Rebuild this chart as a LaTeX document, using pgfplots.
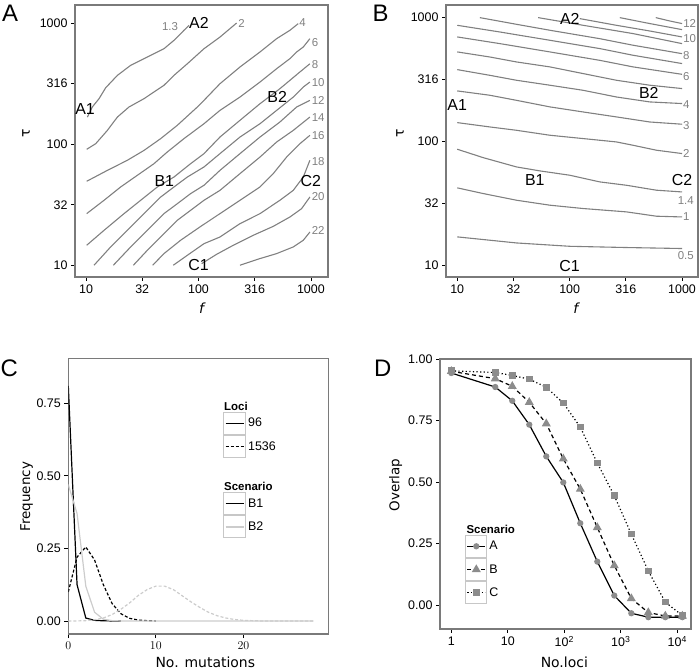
\documentclass[border=0pt]{standalone}
\usepackage{pgfplots}
\pgfplotsset{compat=1.18}
\usepackage{fontspec}
\setmainfont{Liberation Sans}
\newfontfamily\djv{DejaVu Sans}

\definecolor{cline}{gray}{0.5}
\definecolor{frame}{gray}{0.48}
\definecolor{lightg}{gray}{0.8}
\definecolor{keybox}{gray}{0.78}
\definecolor{mk}{gray}{0.55}

\tikzset{
  glab/.style={text=cline, font=\fontsize{11.5}{12}\selectfont, inner sep=0pt},
  blab/.style={text=black, font=\fontsize{16}{17}\selectfont, inner sep=0pt},
}
\pgfplotsset{
  panel/.style={
    scale only axis, anchor=south west,
    axis line style={draw=frame, line width=1.2bp},
    tick align=outside, major tick length=4bp,
    xtick pos=bottom, ytick pos=left,
    tick style={black, line width=0.8bp},
    minor tick num=0, minor tick style={draw=none},
    tick label style={font=\fontsize{12.5}{14}\selectfont, black},
  },
  cont/.style={cline, line width=1.1bp, no marks},
  boxkey/.style={legend image code/.code={
    \draw[solid, draw=keybox, line width=1.2bp, fill=white] (0bp,-11bp) rectangle (22bp,11bp);
    \draw (2bp,0bp) -- (20bp,0bp);}},
  markkey/.style={legend image code/.code={
    \draw[solid, draw=keybox, line width=1.2bp, fill=white] (0bp,-11bp) rectangle (21bp,11bp);
    \draw[mark repeat=2, mark phase=2] plot coordinates {(1.5bp,0bp) (10.5bp,0bp) (19.5bp,0bp)};}},
}

\begin{document}
\begin{tikzpicture}
\path[use as bounding box] (0,0) rectangle (700bp,670bp);

% ---------------- A ----------------
\begin{axis}[panel, at={(75bp,393bp)}, width=253bp, height=272bp,
  xmin=0.902, xmax=3.152, ymin=0.904, ymax=3.149, clip=false,
  xtick={1,1.5,2,2.5,3}, xticklabels={10,32,100,316,1000},
  ytick={1,1.5,2,2.5,3}, yticklabels={10,32,100,316,1000}]
\addplot[cont] coordinates {(1.012,2.224) (1.056,2.307) (1.116,2.376) (1.175,2.466) (1.279,2.568) (1.397,2.651) (1.516,2.706) (1.604,2.747) (1.693,2.788) (1.782,2.857) (1.871,2.940) (1.916,2.981)};
\addplot[cont] coordinates {(1.006,1.958) (1.086,2.004) (1.190,2.114) (1.279,2.224) (1.382,2.307) (1.516,2.376) (1.693,2.486) (1.782,2.568) (1.901,2.664) (2.049,2.788) (2.191,2.884) (2.339,3.0)};
\addplot[cont] coordinates {(1.006,1.694) (1.190,1.784) (1.367,1.867) (1.516,1.949) (1.664,2.046) (1.812,2.156) (1.990,2.307) (2.049,2.362) (2.191,2.499) (2.369,2.637) (2.547,2.761) (2.695,2.871) (2.813,2.940) (2.887,2.995)};
\addplot[cont] coordinates {(1.006,1.427) (1.160,1.537) (1.308,1.647) (1.456,1.743) (1.604,1.839) (1.723,1.936) (1.871,2.046) (2.049,2.169) (2.191,2.279) (2.369,2.389) (2.547,2.513) (2.695,2.623) (2.813,2.706) (2.873,2.761) (2.932,2.802) (2.991,2.871)};
\addplot[cont] coordinates {(1.006,1.166) (1.160,1.289) (1.338,1.427) (1.486,1.537) (1.634,1.647) (1.782,1.729) (1.930,1.839) (2.049,1.922) (2.191,2.059) (2.369,2.197) (2.547,2.334) (2.724,2.458) (2.813,2.527) (2.902,2.596) (2.991,2.664)};
\addplot[cont] coordinates {(1.071,1.001) (1.219,1.152) (1.367,1.289) (1.516,1.427) (1.664,1.564) (1.782,1.647) (1.901,1.729) (2.049,1.812) (2.191,1.922) (2.369,2.059) (2.547,2.169) (2.695,2.279) (2.843,2.389) (2.932,2.472) (2.991,2.513)};
\addplot[cont] coordinates {(1.243,1.001) (1.397,1.152) (1.545,1.289) (1.693,1.427) (1.812,1.509) (1.930,1.592) (2.049,1.661) (2.191,1.784) (2.369,1.922) (2.547,2.059) (2.724,2.183) (2.873,2.307) (2.991,2.362)};
\addplot[cont] coordinates {(1.421,1.001) (1.545,1.124) (1.693,1.262) (1.812,1.372) (1.930,1.454) (2.049,1.537) (2.191,1.619) (2.369,1.757) (2.547,1.894) (2.695,2.018) (2.843,2.114) (2.991,2.224)};
\addplot[cont] coordinates {(1.593,1.001) (1.693,1.097) (1.841,1.207) (2.013,1.317) (2.191,1.427) (2.369,1.537) (2.547,1.647) (2.665,1.757) (2.784,1.894) (2.902,2.004) (2.991,2.073)};
\addplot[cont] coordinates {(1.776,1.001) (1.901,1.083) (2.049,1.179) (2.191,1.234) (2.369,1.344) (2.547,1.427) (2.724,1.537) (2.843,1.619) (2.932,1.729) (2.991,1.867)};
\addplot[cont] coordinates {(2.028,1.014) (2.161,1.091) (2.310,1.166) (2.487,1.248) (2.665,1.322) (2.813,1.399) (2.917,1.468) (2.991,1.564)};
\addplot[cont] coordinates {(2.369,1.001) (2.547,1.056) (2.695,1.097) (2.843,1.152) (2.932,1.207) (2.991,1.275)};
\node[glab] at (axis cs:1.747,2.967) {1.3};
\node[glab] at (axis cs:2.384,3.0) {2};
\node[glab] at (axis cs:2.926,3.0) {4};
\node[glab] at (axis cs:3.036,2.843) {6};
\node[glab] at (axis cs:3.036,2.659) {8};
\node[glab] at (axis cs:3.065,2.505) {10};
\node[glab] at (axis cs:3.065,2.362) {12};
\node[glab] at (axis cs:3.065,2.219) {14};
\node[glab] at (axis cs:3.065,2.070) {16};
\node[glab] at (axis cs:3.065,1.856) {18};
\node[glab] at (axis cs:3.065,1.564) {20};
\node[glab] at (axis cs:3.065,1.284) {22};
\node[blab] at (axis cs:0.991,2.293) {A1};
\node[blab] at (axis cs:2.004,3.0) {A2};
\node[blab] at (axis cs:1.696,1.694) {B1};
\node[blab] at (axis cs:2.70,2.389) {B2};
\node[blab] at (axis cs:2.0,1.0) {C1};
\node[blab] at (axis cs:3.0,1.694) {C2};
\end{axis}

% ---------------- B ----------------
\begin{axis}[panel, at={(446bp,393bp)}, width=252bp, height=272bp,
  xmin=0.9, xmax=3.142, ymin=0.905, ymax=3.102, clip=false,
  xtick={1,1.5,2,2.5,3}, xticklabels={10,32,100,316,1000},
  ytick={1,1.5,2,2.5,3}, yticklabels={10,32,100,316,1000}]
\addplot[cont] coordinates {(1.0,1.229) (1.527,1.180) (2.001,1.153) (2.505,1.143) (3.0,1.135)};
\addplot[cont] coordinates {(1.0,1.625) (1.231,1.579) (1.527,1.525) (1.824,1.485) (2.120,1.458) (2.505,1.431) (2.772,1.396) (3.0,1.390)};
\addplot[cont] coordinates {(1.0,1.937) (1.231,1.869) (1.527,1.794) (1.735,1.762) (2.001,1.727) (2.268,1.673) (2.505,1.646) (2.772,1.606) (3.0,1.592)};
\addplot[cont] coordinates {(1.0,2.152) (1.290,2.117) (1.527,2.090) (1.824,2.050) (2.120,2.023) (2.416,1.996) (2.564,1.969) (2.772,1.929) (3.0,1.902)};
\addplot[cont] coordinates {(1.0,2.408) (1.290,2.373) (1.527,2.332) (1.824,2.279) (2.120,2.238) (2.416,2.198) (2.713,2.157) (3.0,2.139)};
\addplot[cont] coordinates {(1.0,2.580) (1.290,2.534) (1.527,2.494) (1.824,2.454) (2.120,2.413) (2.416,2.359) (2.713,2.319) (3.0,2.306)};
\addplot[cont] coordinates {(1.0,2.723) (1.290,2.682) (1.527,2.642) (1.824,2.602) (2.120,2.548) (2.416,2.494) (2.713,2.454) (3.0,2.427)};
\addplot[cont] coordinates {(1.0,2.844) (1.379,2.790) (1.824,2.723) (2.268,2.655) (2.564,2.602) (3.0,2.542)};
\addplot[cont] coordinates {(1.0,2.938) (1.379,2.884) (1.824,2.817) (2.268,2.750) (2.564,2.696) (3.0,2.629)};
\addplot[cont] coordinates {(1.201,3.0) (1.527,2.946) (1.824,2.898) (2.268,2.830) (2.564,2.777) (3.0,2.709)};
\addplot[cont] coordinates {(1.720,3.0) (2.120,2.938) (2.564,2.871) (3.0,2.790)};
\addplot[cont] coordinates {(2.090,2.992) (2.416,2.938) (2.713,2.892) (3.0,2.844)};
\addplot[cont] coordinates {(2.446,3.0) (2.713,2.952) (3.0,2.903)};
\addplot[cont] coordinates {(2.766,3.0) (2.890,2.973) (3.0,2.952)};
\node[glab] at (axis cs:3.068,2.952) {12};
\node[glab] at (axis cs:3.068,2.830) {10};
\node[glab] at (axis cs:3.039,2.696) {8};
\node[glab] at (axis cs:3.039,2.521) {6};
\node[glab] at (axis cs:3.039,2.300) {4};
\node[glab] at (axis cs:3.039,2.131) {3};
\node[glab] at (axis cs:3.039,1.902) {2};
\node[glab] at (axis cs:3.033,1.525) {1.4};
\node[glab] at (axis cs:3.039,1.390) {1};
\node[glab] at (axis cs:3.033,1.081) {0.5};
\node[blab] at (axis cs:2.001,2.992) {A2};
\node[blab] at (axis cs:1.0,2.292) {A1};
\node[blab] at (axis cs:1.690,1.686) {B1};
\node[blab] at (axis cs:2.704,2.392) {B2};
\node[blab] at (axis cs:2.0,0.995) {C1};
\node[blab] at (axis cs:3.0,1.686) {C2};
\end{axis}

% ---------------- C ----------------
\begin{axis}[panel, at={(68.3bp,36bp)}, width=260bp, height=275.7bp,
  xmin=0, xmax=29.7, ymin=-0.045, ymax=0.905,
  xtick={0,10,20}, ytick={0,0.25,0.5,0.75},
  yticklabels={0.00,0.25,0.50,0.75},
  legend style={draw=none, fill=none, at={(0.594,0.856)}, anchor=north west,
    inner sep=0pt, row sep=0pt, column sep=2bp,
    font=\fontsize{12.5}{13}\selectfont, nodes={inner sep=0pt}, cells={anchor=west}}]
\addplot[forget plot, black, line width=1.2bp] coordinates {(0,0.81) (1,0.125) (2,0.01) (3,0.002) (4,0.0005) (5,0) (6,0)};
\addplot[forget plot, black, line width=1.2bp, dash pattern=on 3bp off 2bp] coordinates {(0,0.10) (1,0.22) (2,0.255) (3,0.21) (4,0.125) (5,0.06) (6,0.025) (7,0.009) (8,0.003) (9,0.001) (10,0)};
\addplot[forget plot, lightg, line width=1.2bp] coordinates {(0,0.47) (1,0.37) (2,0.12) (3,0.03) (4,0.006) (5,0.001) (6,0) (28,0)};
\addplot[forget plot, lightg, line width=1.2bp, dash pattern=on 3bp off 2bp] coordinates {(0,0) (1,0) (2,0.001) (3,0.004) (4,0.01) (5,0.022) (6,0.04) (7,0.062) (8,0.088) (9,0.108) (10,0.12) (11,0.12) (12,0.108) (13,0.087) (14,0.066) (15,0.047) (16,0.03) (17,0.018) (18,0.01) (19,0.005) (20,0.002) (21,0.001) (22,0) (28,0)};
\addlegendimage{empty legend}
\addlegendentry{\makebox[0pt][l]{\hspace*{-24.5bp}\rule[-4bp]{0pt}{16bp}\bfseries\fontsize{11.5}{12}\selectfont Loci}}
\addlegendimage{boxkey, black, line width=1.4bp}
\addlegendentry{96}
\addlegendimage{boxkey, black, line width=1.4bp, dash pattern=on 3bp off 2bp}
\addlegendentry{1536}
\addlegendimage{empty legend}
\addlegendentry{\rule{0pt}{19bp}}
\addlegendimage{empty legend}
\addlegendentry{\makebox[0pt][l]{\hspace*{-24.5bp}\rule[-4bp]{0pt}{16bp}\bfseries\fontsize{11.5}{12}\selectfont Scenario}}
\addlegendimage{boxkey, black, line width=1.4bp}
\addlegendentry{B1}
\addlegendimage{boxkey, lightg, line width=1.4bp}
\addlegendentry{B2}
\end{axis}

% ---------------- D ----------------
\begin{axis}[panel, at={(440bp,41bp)}, width=251bp, height=270bp,
  xmode=log, xmin=0.631, xmax=17500, ymin=-0.098, ymax=1.0,
  xminorticks=false,
  xtick={1,10,100,1000,10000},
  xticklabels={1,10,10\textsuperscript{2},10\textsuperscript{3},10\textsuperscript{4}},
  ytick={0,0.25,0.5,0.75,1}, yticklabels={0.00,0.25,0.50,0.75,1.00},
  legend style={draw=none, fill=none, at={(0.0996,0.40)}, anchor=north west,
    inner sep=0pt, row sep=0pt, column sep=2bp,
    font=\fontsize{12.5}{13}\selectfont, nodes={inner sep=0pt}, cells={anchor=west}}]
\addplot[forget plot, black, line width=1.2bp, mark=*, mark size=2.5bp, mark options={solid, fill=mk, draw=mk}] coordinates {(1,0.943) (6,0.886) (12,0.830) (24,0.733) (48,0.604) (96,0.498) (192,0.332) (384,0.176) (768,0.038) (1536,-0.034) (3072,-0.05) (6144,-0.05) (12288,-0.05)};
\addplot[forget plot, black, line width=1.2bp, dash pattern=on 4bp off 3bp, mark=triangle*, mark size=4bp, mark options={solid, fill=mk, draw=mk}] coordinates {(1,0.95) (6,0.92) (12,0.889) (24,0.824) (48,0.737) (96,0.594) (192,0.471) (384,0.315) (768,0.16) (1536,0.026) (3072,-0.031) (6144,-0.045) (12288,-0.045)};
\addplot[forget plot, black, line width=1.2bp, dash pattern=on 1.2bp off 2.4bp, mark=square*, mark size=2.7bp, mark options={solid, fill=mk, draw=mk}] coordinates {(1,0.952) (6,0.945) (12,0.933) (24,0.918) (48,0.885) (96,0.821) (192,0.723) (384,0.577) (768,0.444) (1536,0.288) (3072,0.138) (6144,0.011) (12288,-0.043)};
\addlegendimage{empty legend}
\addlegendentry{\makebox[0pt][l]{\hspace*{-23.3bp}\rule[-4bp]{0pt}{16bp}\bfseries\fontsize{11.5}{12}\selectfont Scenario}}
\addlegendimage{markkey, black, line width=1.2bp, mark=*, mark size=2.5bp, mark options={solid, fill=mk, draw=mk}}
\addlegendentry{A}
\addlegendimage{markkey, black, line width=1.2bp, dash pattern=on 4bp off 3bp, mark=triangle*, mark size=4bp, mark options={solid, fill=mk, draw=mk}}
\addlegendentry{B}
\addlegendimage{markkey, black, line width=1.2bp, dash pattern=on 1.2bp off 2.4bp, mark=square*, mark size=2.7bp, mark options={solid, fill=mk, draw=mk}}
\addlegendentry{C}
\end{axis}

% panel letters and axis titles
\node[font=\fontsize{24}{26}\selectfont] at (10bp,656.7bp) {A};
\node[font=\fontsize{24}{26}\selectfont] at (380.5bp,656.7bp) {B};
\node[font=\fontsize{24}{26}\selectfont] at (9.2bp,301.7bp) {C};
\node[font=\fontsize{24}{26}\selectfont] at (382.7bp,301.7bp) {D};
\node[font=\djv\fontsize{14}{16}\selectfont, rotate=90] at (26bp,536.7bp) {τ};
\node[font=\djv\fontsize{14}{16}\selectfont\itshape] at (201.7bp,361.7bp) {f};
\node[font=\djv\fontsize{14}{16}\selectfont, rotate=90] at (400bp,536.7bp) {τ};
\node[font=\djv\fontsize{14}{16}\selectfont\itshape] at (575.7bp,361.7bp) {f};
\node[font=\djv\fontsize{13.5}{16}\selectfont, rotate=90] at (26.7bp,173.3bp) {Frequency};
\node[font=\djv\fontsize{14}{16}\selectfont, anchor=base, inner sep=0pt] at (205.3bp,2.5bp) {No. mutations};
\node[font=\djv\fontsize{13.5}{16}\selectfont, rotate=90] at (395.7bp,185bp) {Overlap};
\node[font=\djv\fontsize{14}{16}\selectfont, anchor=base, inner sep=0pt] at (564.3bp,2.5bp) {No.loci};
\end{tikzpicture}
\end{document}
